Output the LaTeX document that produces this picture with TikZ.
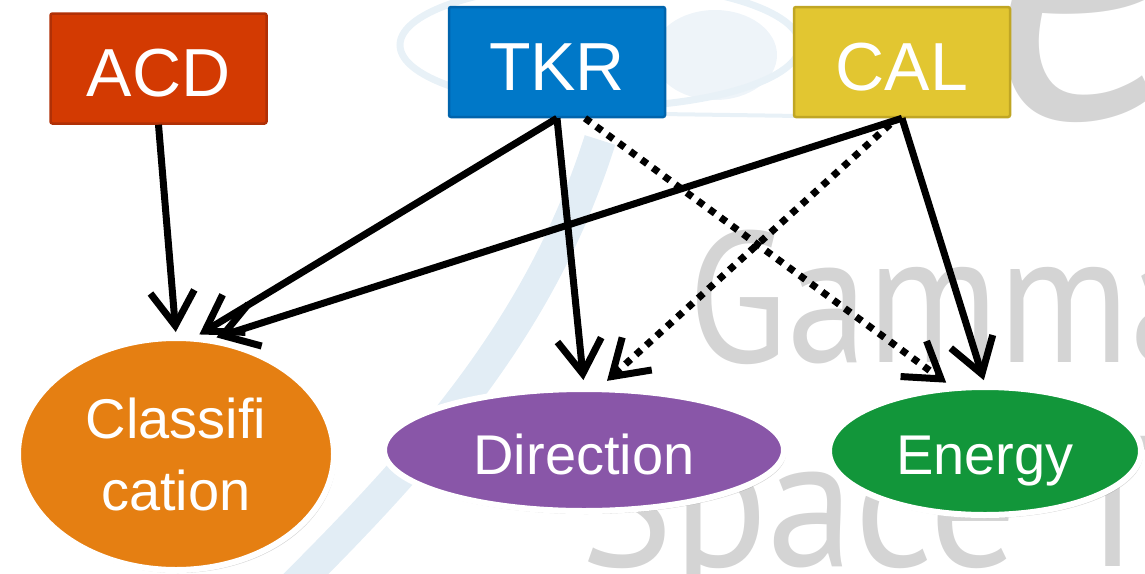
\documentclass[tikz,border=0pt]{standalone}
\usepackage{fontspec}
\setmainfont{Liberation Sans}
\newfontfamily\markfont{PT Sans}
\usetikzlibrary{arrows.meta,shapes.geometric,shadows}

\definecolor{acdred}{RGB}{211,58,2}
\definecolor{acdedge}{RGB}{176,48,6}
\definecolor{tkrblue}{RGB}{0,120,200}
\definecolor{tkredge}{RGB}{0,100,172}
\definecolor{calgold}{RGB}{226,198,49}
\definecolor{caledge}{RGB}{192,166,36}
\definecolor{classorange}{RGB}{229,127,18}
\definecolor{dirpurple}{RGB}{137,86,168}
\definecolor{energygreen}{RGB}{18,150,58}
\definecolor{markgray}{RGB}{212,212,212}
\definecolor{swirlblue}{RGB}{226,237,245}

\begin{document}
\begin{tikzpicture}[x=1pt,y=-1pt,
  subsystem/.style={rectangle, rounded corners=2pt, line width=2.5pt,
    minimum width=216pt, minimum height=110pt, inner sep=0pt,
    text=white, text height=56pt, text depth=0pt,
    font=\fontsize{68}{68}\selectfont},
  product/.style={ellipse, draw=white, line width=6pt, inner sep=0pt,
    text=white, font=\fontsize{56}{72}\selectfont,
    drop shadow={shadow xshift=2pt, shadow yshift=-3pt, opacity=0.35}},
  link/.style={line width=7pt, -{Straight Barb[length=34pt,width=44pt]}},
  maybe/.style={link, dash pattern=on 7pt off 7pt},
  backword/.style={inner sep=0pt, text=markgray}
]
\useasboundingbox (0,0) rectangle (1145,573);

% faint slide background: swirl and lettering
\begin{scope}
  \clip (0,0) rectangle (1145,573);
  \fill[swirlblue!60] (715,55) ellipse [x radius=62pt, y radius=45pt];
  \draw[swirlblue!80, line width=7pt] (600,45) ellipse [x radius=200pt, y radius=62pt];
  \draw[swirlblue!80, line width=4pt] (660,114) -- (800,116);
  \draw[swirlblue, line width=32pt] (600,140) .. controls (540,330) and (420,460) .. (290,590);
  \node[backword, anchor=base west, font=\markfont\fontsize{186}{186}\selectfont]
    (gammaword) at (688,362) {\scalebox{0.87}[1]{Gamma}};
  \node[backword, anchor=base west, font=\markfont\fontsize{186}{186}\selectfont]
    (spaceword) at (580,566) {\scalebox{0.94}[1]{Space Te}};
  \node[backword, anchor=base west, font=\markfont\itshape\fontsize{430}{430}\selectfont]
    (logoe) at (985,117) {e};
\end{scope}

% detector subsystems
\node[subsystem, fill=acdred, draw=acdedge] (acd) at (158.5,68.5) {ACD};
\node[subsystem, fill=tkrblue, draw=tkredge] (tkr) at (557,62) {TKR};
\node[subsystem, fill=calgold, draw=caledge] (cal) at (902,62) {CAL};

% reconstructed quantities
\node[product, fill=classorange, minimum width=316pt, minimum height=232pt,
  align=center] (class) at (176,454) {Classifi\\cation};
\node[product, fill=dirpurple, minimum width=400pt, minimum height=122pt,
  text height=48pt, text depth=0pt] (dir) at (584,450) {Direction};
\node[product, fill=energygreen, minimum width=312pt, minimum height=128pt,
  text height=46pt, text depth=0pt] (energy) at (985,451) {Energy};

% dependencies
\draw[link, shorten >=3pt] (acd.south) -- (class.north);
\draw[link, shorten >=3pt] (tkr.south) -- (class.80);
\draw[link, shorten >=3pt] (cal.south) -- (class.72);
\draw[link, shorten >=6pt] (tkr.south) -- (dir.north);
\draw[link, shorten >=4pt] (cal.south) -- (energy.north);
\draw[maybe, shorten >=5pt] ([xshift=28pt]tkr.south) -- (energy.118);
\draw[maybe, shorten >=8pt] ([xshift=-12pt,yshift=-6pt]cal.south) -- (dir.75);
\end{tikzpicture}
\end{document}
